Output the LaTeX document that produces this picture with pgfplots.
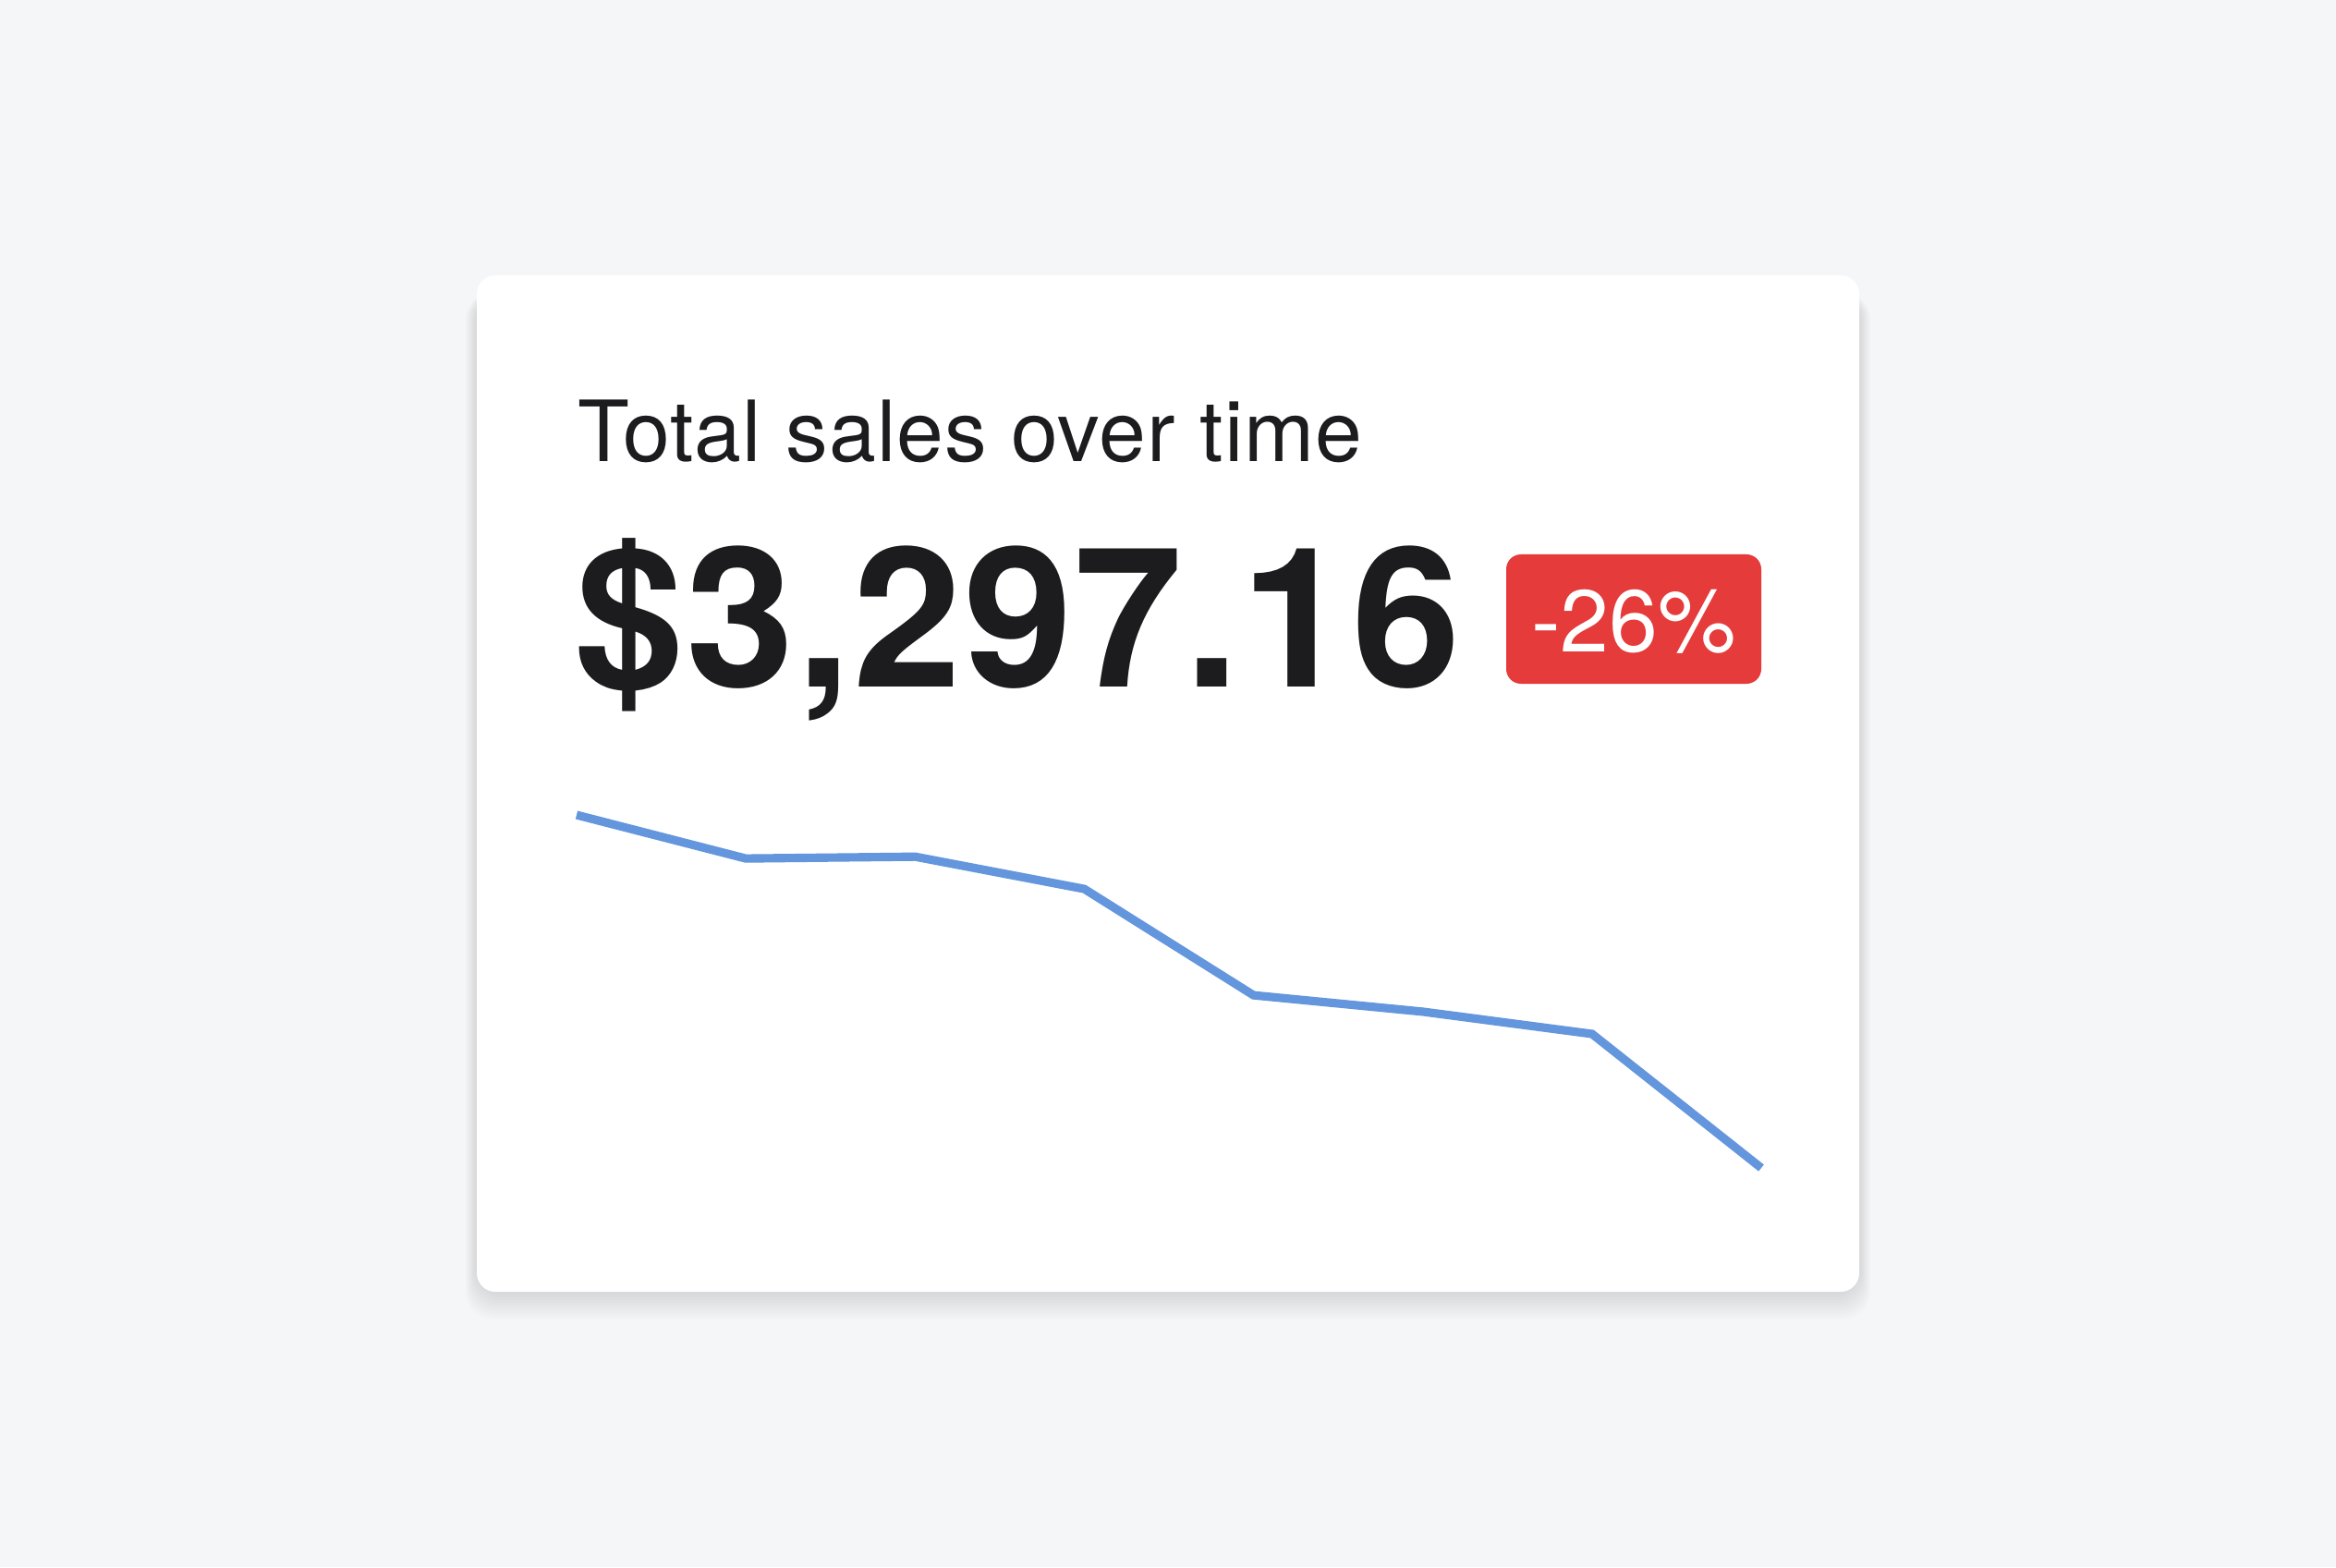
\documentclass[border=0pt]{standalone}
\usepackage{pgfplots}
\pgfplotsset{compat=1.18}
\usepackage{fontspec}
\setmainfont{TeX Gyre Heros}
\definecolor{pagebg}{HTML}{F5F6F8}
\definecolor{inkdark}{HTML}{1C1C1E}
\definecolor{badgered}{HTML}{E53B3A}
\definecolor{lineblue}{HTML}{6396DC}
\begin{document}
\begin{tikzpicture}
% page and card
\fill[pagebg] (0,0) rectangle (25.28,16.96);
\foreach \i in {1,...,10} {
  \fill[black, opacity=0.01, rounded corners=0.3cm]
    (5.16-0.012*\i, 2.98-0.03*\i) rectangle (20.12+0.012*\i, 13.8);
}
\fill[white, rounded corners=0.2cm] (5.16,2.98) rectangle (20.12,13.98);

% headline texts
\node[anchor=base west, inner sep=0pt, text=inkdark]
  at (6.25,11.96) {\addfontfeature{LetterSpace=1.2}\fontsize{26}{30}\selectfont Total sales over time};
\node[anchor=base west, inner sep=0pt, text=inkdark]
  at (6.22,9.53) {\fontsize{60}{70}\selectfont\bfseries\addfontfeature{LetterSpace=1.2}\$3,297.16};

% change badge
\fill[badgered, rounded corners=0.16cm] (16.30,9.56) rectangle (19.06,10.96);
\node[anchor=base, inner sep=0pt, text=white]
  at (17.68,9.91) {\fontsize{27}{30}\selectfont -26\%};

% sparkline
\begin{axis}[
  at={(6.24cm,4.32cm)}, anchor=origin,
  scale only axis, width=12.82cm, height=3.82cm,
  xmin=0, xmax=7, ymin=3297, ymax=4456,
  enlargelimits=false, hide axis, clip=false,
]
\addplot[color=lineblue, line width=2.6pt, mark=none] coordinates {
(0, 4456) (1, 4313) (2, 4319) (3, 4213)
(4, 3864) (5, 3810) (6, 3737) (7, 3297)
};
\end{axis}
\end{tikzpicture}
\end{document}
